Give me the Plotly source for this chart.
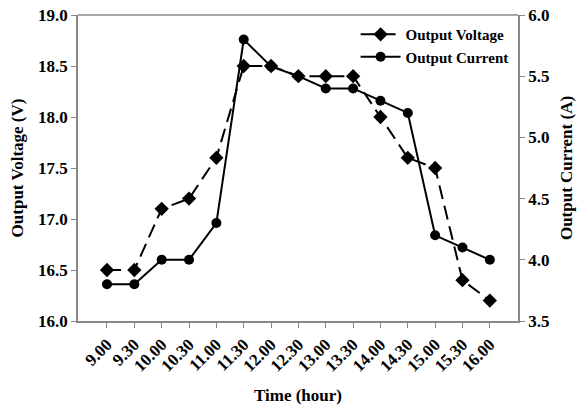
import plotly.graph_objects as go

times = ["9.00", "9.30", "10.00", "10.30", "11.00", "11.30", "12.00", "12.30",
         "13.00", "13.30", "14.00", "14.30", "15.00", "15.30", "16.00"]
voltage = [16.5, 16.5, 17.1, 17.2, 17.6, 18.5, 18.5, 18.4, 18.4, 18.4, 18.0, 17.6, 17.5, 16.4, 16.2]
current = [3.8, 3.8, 4.0, 4.0, 4.3, 5.8, 5.58, 5.5, 5.4, 5.4, 5.3, 5.2, 4.2, 4.1, 4.0]

x = list(range(len(times)))
FONT = "Liberation Serif"
TICK = 17
TITLE = 17

fig = go.Figure()
fig.add_trace(go.Scatter(
    x=x, y=voltage, name="<b>Output Voltage</b>", mode="lines+markers",
    line=dict(color="black", width=2, dash="14px,7px"),
    marker=dict(symbol="diamond", size=11, color="black"),
))
fig.add_trace(go.Scatter(
    x=x, y=current, name="<b>Output Current</b>", mode="lines+markers", yaxis="y2",
    line=dict(color="black", width=2),
    marker=dict(symbol="circle", size=10, color="black"),
))

axis_common = dict(showgrid=False, zeroline=False, showline=True, linecolor="#888888",
                   linewidth=1.5, ticks="outside", ticklen=5, tickcolor="#888888",
                   automargin=False,
                   tickfont=dict(family=FONT, size=TICK, color="black"))

fig.update_layout(
    width=583, height=409,
    margin=dict(l=78, r=65, t=15, b=88),
    paper_bgcolor="white", plot_bgcolor="white",
    font=dict(family=FONT, color="black"),
    xaxis=dict(**axis_common, range=[-1.06, 15.03], tickmode="array", tickvals=x,
               ticktext=["<b>%s</b>" % t for t in times], tickangle=-45, mirror=False,
               title=dict(text="<b>Time (hour)</b>", font=dict(family=FONT, size=TITLE), standoff=15)),
    yaxis=dict(**axis_common, range=[16, 19], tickvals=[16, 16.5, 17, 17.5, 18, 18.5, 19],
               ticktext=["<b>%.1f</b>" % v for v in [16, 16.5, 17, 17.5, 18, 18.5, 19]],
               title=dict(text="<b>Output Voltage (V)</b>", font=dict(family=FONT, size=TITLE), standoff=10)),
    yaxis2=dict(**axis_common, range=[3.5, 6.0], overlaying="y", side="right",
                tickvals=[3.5, 4.0, 4.5, 5.0, 5.5, 6.0],
                ticktext=["<b>%.1f</b>" % v for v in [3.5, 4.0, 4.5, 5.0, 5.5, 6.0]],
                title=dict(text="<b>Output Current (A)</b>", font=dict(family=FONT, size=TITLE), standoff=12)),
    legend=dict(x=0.99, y=0.99, xanchor="right", yanchor="top", bgcolor="rgba(0,0,0,0)",
                font=dict(family=FONT, size=15, color="black"), tracegroupgap=0,
                itemwidth=40),
    showlegend=True,
)

# top border line
fig.add_shape(type="line", xref="paper", yref="paper", x0=0, x1=1, y0=1, y1=1,
              line=dict(color="#888888", width=1.5))

fig.write_html("out.html")
